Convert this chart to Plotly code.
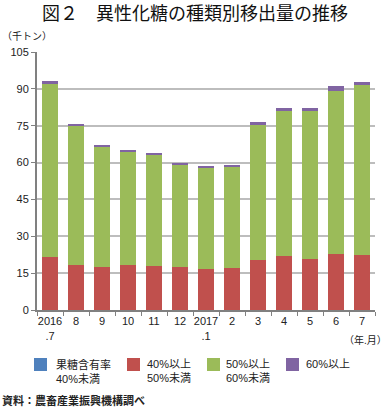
import plotly.graph_objects as go

categories = ["2016<br>.7", "8", "9", "10", "11", "12", "2017<br>.1", "2", "3", "4", "5", "6", "7"]
below40 = [0.1, 0.1, 0.1, 0.1, 0.1, 0.1, 0.1, 0.1, 0.1, 0.1, 0.1, 0.1, 0.1]
from40to50 = [21.4, 18.4, 17.3, 18.1, 17.7, 17.3, 16.4, 17.0, 20.4, 21.8, 20.8, 22.5, 22.2]
from50to60 = [70.4, 56.6, 49.0, 46.2, 45.3, 41.7, 41.3, 40.9, 54.6, 58.9, 60.0, 66.7, 69.3]
over60 = [1.3, 0.7, 0.8, 0.9, 0.8, 0.6, 0.9, 1.0, 1.4, 1.3, 1.5, 1.8, 1.2]
y_ticks = [0, 15, 30, 45, 60, 75, 90, 105]

series = [
    ("果糖含有率<br>40%未満", below40, "#4F81BD"),
    ("40%以上<br>50%未満", from40to50, "#C0504D"),
    ("50%以上<br>60%未満", from50to60, "#9BBB59"),
    ("60%以上", over60, "#8064A2"),
]

FONT = "Liberation Sans, Noto Sans CJK JP, sans-serif"
W, H = 390, 410
L, R, T, B = 37, 15, 52, 100
PW, PH = W - L - R, H - T - B


def px(x):
    return (x - L) / PW


def py(y):
    return (H - B - y) / PH


fig = go.Figure()
for name, vals, color in series:
    fig.add_trace(go.Bar(x=categories, y=vals, name=name.replace("<br>", ""),
                         marker=dict(color=color, line=dict(width=0)), showlegend=False))

fig.update_layout(
    barmode="stack",
    bargap=0.42,
    width=W, height=H,
    margin=dict(l=L, r=R, t=T, b=B, autoexpand=False),
    paper_bgcolor="white", plot_bgcolor="white",
    font=dict(family=FONT, size=11, color="#222"),
    title=dict(text="図２　異性化糖の種類別移出量の推移", x=0.5, xanchor="center", y=1 - 14 / H, yanchor="middle",
               font=dict(size=18, color="#111", family="Noto Sans CJK JP, sans-serif")),
)
fig.update_yaxes(range=[0, 105], tickvals=y_ticks, showgrid=True, gridcolor="#BDBDBD", gridwidth=2,
                 showline=True, linecolor="#808080", linewidth=2, ticks="outside", ticklen=4,
                 tickcolor="#808080", zeroline=False, tickfont=dict(size=11))
fig.update_xaxes(showline=True, linecolor="#808080", linewidth=2, ticks="outside", ticklen=4,
                 tickcolor="#808080", tickson="boundaries", tickangle=0, tickfont=dict(size=11))

fig.add_annotation(text="（千トン）", xref="paper", yref="paper", x=px(0), y=py(37), xanchor="left", yanchor="middle",
                   showarrow=False, font=dict(size=10))
fig.add_annotation(text="（年.月）", xref="paper", yref="paper", x=px(389), y=py(340), xanchor="right", yanchor="middle",
                   showarrow=False, font=dict(size=10))
fig.add_annotation(text="<b>資料：農畜産業振興機構調べ</b>", xref="paper", yref="paper", x=px(0), y=py(400),
                   xanchor="left", yanchor="middle", showarrow=False, font=dict(size=11))

# legend
sq_x = [34, 127, 207, 286]
tx_x = [54, 145, 224, 304]
for (name, vals, color), sx, tx in zip(series, sq_x, tx_x):
    fig.add_shape(type="rect", xref="paper", yref="paper", x0=px(sx), x1=px(sx + 13), y0=py(371), y1=py(358),
                  fillcolor=color, line=dict(width=0))
    fig.add_annotation(text=name, xref="paper", yref="paper", x=px(tx), y=py(356), xanchor="left", yanchor="top",
                       align="left", showarrow=False, font=dict(size=11))

fig.write_html("out.html", config={"displayModeBar": False},
               post_script="document.body.style.margin='0';document.body.style.overflow='hidden';")
